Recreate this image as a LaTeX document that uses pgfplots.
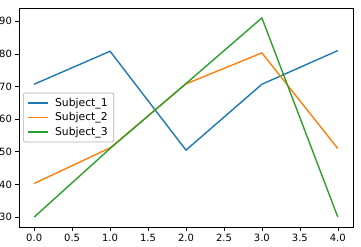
\documentclass[border=0pt]{standalone}
\usepackage{pgfplots}
\pgfplotsset{compat=1.18}
\usepackage{fontspec}
\setmainfont{DejaVu Sans}
\definecolor{tabblue}{HTML}{1F77B4}
\definecolor{taborange}{HTML}{FF7F0E}
\definecolor{tabgreen}{HTML}{2CA02C}
\begin{document}
\begin{tikzpicture}
\begin{axis}[
  scale only axis, width=334pt, height=219pt,
  xmin=-0.2, xmax=4.2, ymin=26.95, ymax=94.05,
  xtick={0,0.5,...,4}, ytick={30,40,...,90},
  tick align=outside, major tick length=3.5pt,
  tick style={black, line width=0.6pt},
  xtick pos=bottom, ytick pos=left,
  axis line style={line width=0.6pt},
  /pgf/number format/assume math mode=true,
  xticklabel style={/pgf/number format/.cd, fixed, fixed zerofill, precision=1},
  ticklabel style={font=\fontsize{10}{12}\selectfont},
  legend style={at={(rel axis cs:0.012,0.5)}, anchor=west, font=\fontsize{10.8}{13}\selectfont,
    draw=black!30, line width=0.7pt, rounded corners=2pt, fill=white,
    inner xsep=4pt, inner ysep=3pt, row sep=1pt,
    /tikz/every odd column/.append style={column sep=4pt}},
  legend cell align=left,
]
\coordinate (sw) at (rel axis cs:0,0);
\coordinate (ne) at (rel axis cs:1,1);
\addplot[draw=tabblue, line width=1.4pt,
  legend image code/.code={\draw[draw=tabblue, line width=1.7pt] (0pt,0pt) -- (20pt,0pt);}]
  coordinates {(0,70.7) (1,80.8) (2,50.5) (3,70.7) (4,81.0)};
\addlegendentry{Subject\_1}
\addplot[draw=taborange, line width=1.4pt,
  legend image code/.code={\draw[draw=taborange, line width=1.7pt] (0pt,0pt) -- (20pt,0pt);}]
  coordinates {(0,40.3) (1,51.2) (2,70.8) (3,80.3) (4,51.0)};
\addlegendentry{Subject\_2}
\addplot[draw=tabgreen, line width=1.4pt,
  legend image code/.code={\draw[draw=tabgreen, line width=1.7pt] (0pt,0pt) -- (20pt,0pt);}]
  coordinates {(0,30.0) (1,51.0) (2,70.9) (3,91.0) (4,30.0)};
\addlegendentry{Subject\_3}
\end{axis}
\pgfresetboundingbox
\path ([xshift=-19pt,yshift=-19pt]sw) rectangle ([xshift=8pt,yshift=8pt]ne);
\end{tikzpicture}
\end{document}
